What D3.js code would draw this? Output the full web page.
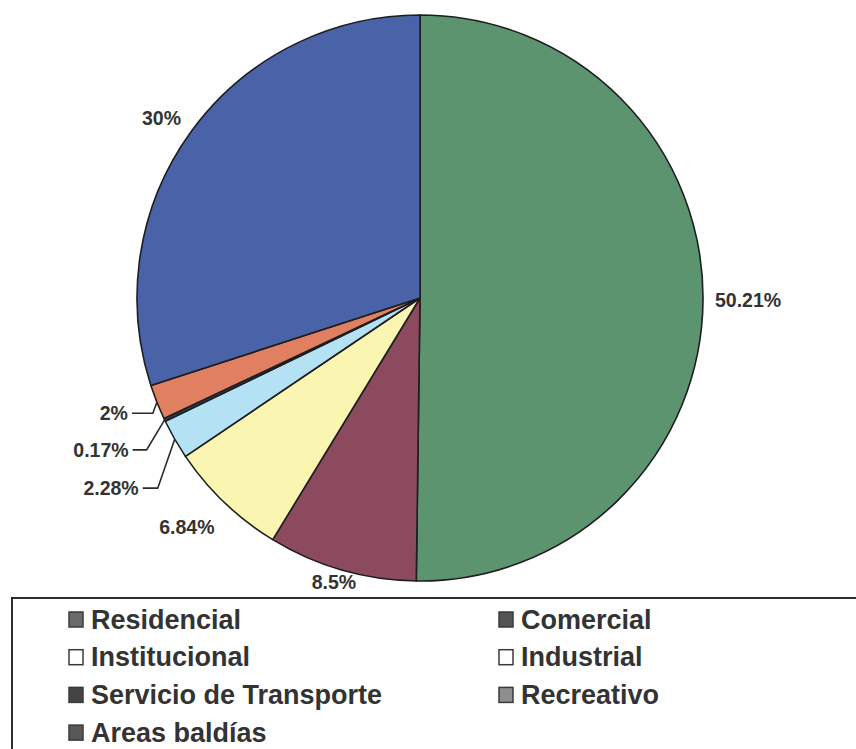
<!DOCTYPE html>
<html>
<head>
<meta charset="utf-8">
<script src="https://cdn.jsdelivr.net/npm/d3@7"></script>
<style>
  body { margin: 0; background: #fff; }
  text { font-family: "Liberation Sans", Arial, sans-serif; font-weight: bold; }
</style>
</head>
<body>
<div id="chart"></div>
<script>
var width = 856,
    height = 749;

// usos de suelo, en el orden en que aparecen en el pastel (desde las 12, en sentido horario)
var categories = ["Residencial", "Comercial", "Institucional", "Industrial",
                  "Servicio de Transporte", "Recreativo", "Areas baldías"];
var values = [50.21, 8.5, 6.84, 2.28, 0.17, 2, 30];
var labels = ["50.21%", "8.5%", "6.84%", "2.28%", "0.17%", "2%", "30%"];

var sliceColors = ["#5c9470", "#8c4a5f", "#fbf5b2", "#b4e1f4", "#34405c", "#e08060", "#4a62a8"];
var swatchColors = ["#6b6b6b", "#555555", "#ffffff", "#ffffff", "#444444", "#8e8e8e", "#585858"];

var cx = 420, cy = 298, radius = 283;

var svg = d3.select("#chart")
    .append("svg")
    .attr("width", width)
    .attr("height", height)

var pie = d3.pie().sort(null).value(function(d){ return d.value })
var arc = d3.arc().innerRadius(0).outerRadius(radius)

var data = categories.map(function(c, i){
    return {name: c, value: values[i], label: labels[i], color: sliceColors[i], swatch: swatchColors[i]}
})
var arcs = pie(data)

var g = svg.append("g").attr("transform", "translate(" + cx + "," + cy + ")")

g.selectAll(".slice")
    .data(arcs)
    .enter().append("path")
    .attr("class", "slice")
    .attr("d", arc)
    .attr("fill", function(d){ return d.data.color })
    .attr("stroke", "#1e1e1e")
    .attr("stroke-width", 1.6)
    .attr("stroke-linejoin", "round")

function mid(d){ return (d.startAngle + d.endAngle) / 2 }
function polar(a, r){ return [Math.sin(a) * r, -Math.cos(a) * r] }

// labels placed outside the edge; small slices get a leader line
var labelGap = [12, 6, 27, 0, 0, 0, 17];
var leader = {3: {ex: 17, ey: 49, hl: 15}, 4: {ex: 18, ey: 30, hl: 14}, 5: {ex: 4, ey: 11, hl: 21}};
var fontSize = 19.5;

arcs.forEach(function(d, i){
    var a = mid(d);
    if (leader[i]) {
        var L = leader[i];
        var p = polar(a, radius);
        var e = [p[0] - L.ex, p[1] + L.ey];
        var s = [e[0] - L.hl, e[1]];
        g.append("polyline")
            .attr("points", [p, e, s].map(function(q){ return q.join(",") }).join(" "))
            .attr("fill", "none")
            .attr("stroke", "#2a2a2a")
            .attr("stroke-width", 1.6)
        g.append("text")
            .attr("x", s[0] - 4)
            .attr("y", s[1])
            .attr("dy", "0.36em")
            .attr("text-anchor", "end")
            .attr("font-size", fontSize)
            .attr("fill", "#333")
            .text(d.data.label)
    } else {
        var t = g.append("text")
            .attr("font-size", fontSize)
            .attr("fill", "#333")
            .attr("text-anchor", "middle")
            .attr("dy", "0.36em")
            .text(d.data.label)
        var hw = t.node().getComputedTextLength() / 2, hh = 7;
        var p = polar(a, radius + labelGap[i]);
        t.attr("x", p[0] + hw * Math.sin(a))
         .attr("y", p[1] - hh * Math.cos(a))
    }
})

// legend box
svg.append("rect")
    .attr("x", 12)
    .attr("y", 598)
    .attr("width", 900)
    .attr("height", 200)
    .attr("fill", "none")
    .attr("stroke", "#2e2e2e")
    .attr("stroke-width", 2)

var legendX = [69, 499], legendY = 619, rowStep = 37.7;

var items = svg.selectAll(".legend")
    .data(data)
    .enter().append("g")
    .attr("class", "legend")
    .attr("transform", function(d, i){
        return "translate(" + legendX[i % 2] + "," + (legendY + Math.floor(i / 2) * rowStep) + ")"
    })

items.append("rect")
    .attr("x", 0)
    .attr("y", -7)
    .attr("width", 14)
    .attr("height", 15)
    .attr("fill", function(d){ return d.swatch })
    .attr("stroke", "#3a3a3a")
    .attr("stroke-width", 1.5)

items.append("text")
    .attr("x", 22)
    .attr("y", 0)
    .attr("dy", "0.36em")
    .attr("font-size", 27)
    .attr("fill", "#333")
    .text(function(d){ return d.name })
</script>
</body>
</html>
